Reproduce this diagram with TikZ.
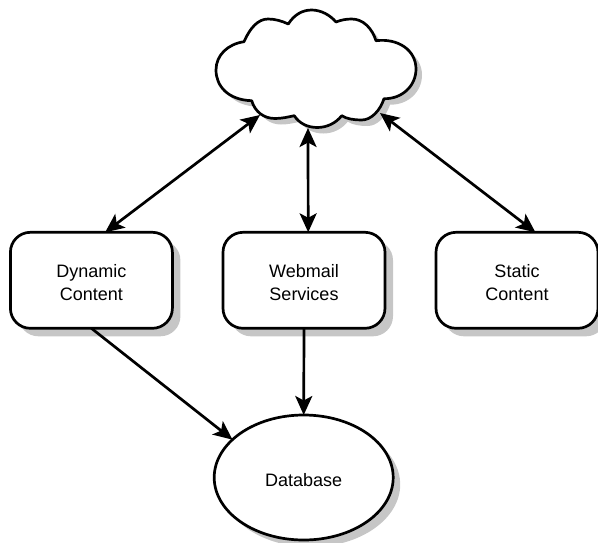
\documentclass[tikz,border=0pt]{standalone}
\usepackage{fontspec}
\setmainfont{Liberation Sans}
\usetikzlibrary{arrows.meta,shapes.geometric,shadows}
\definecolor{shadowgray}{HTML}{C6C6C6}
\newcommand{\lowtext}{\rule{0pt}{17.5pt}}
\newcommand{\cloudpath}{(251.7,100.7)
 .. controls (228,100) and (216,86) .. (216,70)
 .. controls (216,55) and (228,44) .. (244,41.7)
 .. controls (250,28) and (258,19) .. (268,19)
 .. controls (275,19) and (282,21) .. (288.3,24)
 .. controls (294,15) and (302,10) .. (311.7,10)
 .. controls (321,10) and (330,15) .. (336,22)
 .. controls (341,20) and (346,19) .. (351.7,19)
 .. controls (363,19) and (372,28) .. (376,40.7)
 .. controls (398,38) and (416,50) .. (416,69)
 .. controls (416,86) and (402,99) .. (384,98.7)
 .. controls (380,111) and (371,120) .. (361.7,120)
 .. controls (354,120) and (347,119) .. (341.7,115.7)
 .. controls (336,123) and (327,127.5) .. (317.3,127.5)
 .. controls (307,127.5) and (299,123) .. (294.3,115.7)
 .. controls (288,117) and (282,118.5) .. (275,118.5)
 .. controls (264,118.5) and (255,112) .. (251.7,100.7) -- cycle}
\tikzset{
  x=1pt,y=-1pt,
  line/.style={line width=2.7pt,black},
  svcbox/.style={line,draw,fill=white,rounded corners=20pt,minimum width=162pt,minimum height=96pt,
    inner sep=0pt,outer sep=0pt,align=center,
    font=\fontsize{18}{22.5}\selectfont,
    drop shadow={shadow xshift=8pt,shadow yshift=-8pt,fill=shadowgray,opacity=1}},
  dbnode/.style={line,draw,fill=white,ellipse,minimum width=179pt,minimum height=125pt,
    inner sep=0pt,outer sep=0pt,align=center,font=\fontsize{18}{22.5}\selectfont,
    drop shadow={shadow xshift=7pt,shadow yshift=-7pt,fill=shadowgray,opacity=1}},
  tip/.style={},
  link/.style={line,-{Stealth[length=19pt,width=17pt,inset=4.5pt]}},
  dlink/.style={line,{Stealth[length=19pt,width=17pt,inset=4.5pt]}-{Stealth[length=19pt,width=17pt,inset=4.5pt]}},
}
\begin{document}
\begin{tikzpicture}
\useasboundingbox (0,0) rectangle (598,542);
\fill[shadowgray,shift={(6,6)}] \cloudpath;
\draw[line,fill=white,line join=round] \cloudpath;
\coordinate (cloudl) at (260,115);
\coordinate (cloudm) at (308,128);
\coordinate (cloudr) at (380,113);
\node[svcbox] (dyn) at (91.4,280.3) {\lowtext Dynamic\\Content};
\node[svcbox] (web) at (304,280.3) {\lowtext Webmail\\Services};
\node[svcbox] (sta) at (517,280.3) {\lowtext Static\\Content};
\node[dbnode] (db) at (303.7,477.5) {\lowtext Database};
\draw[dlink] (cloudl) -- (dyn.74);
\draw[dlink] (cloudm) -- (web.85);
\draw[dlink] (cloudr) -- (sta.69);
\draw[link] (dyn.south) -- (db.152);
\draw[link] (web.south) -- (db.north);
\end{tikzpicture}
\end{document}
